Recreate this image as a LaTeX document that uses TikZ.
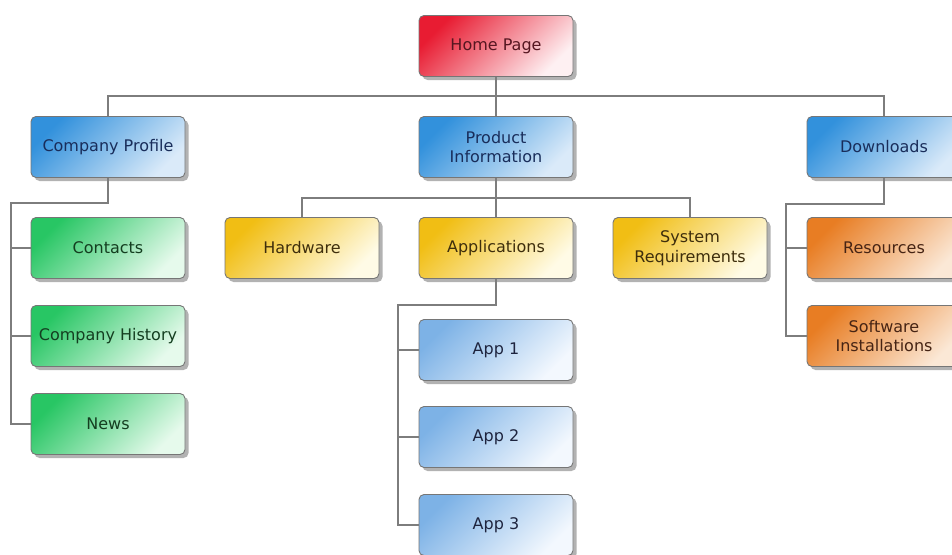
\documentclass[tikz,border=0pt]{standalone}
\usepackage{fontspec}
\setmainfont{DejaVu Sans}
\usetikzlibrary{shadows}
\definecolor{conncol}{RGB}{125,125,125}
\definecolor{bordercol}{RGB}{118,118,118}
\definecolor{redA}{RGB}{232,28,50}
\definecolor{redM}{RGB}{240,105,120}
\definecolor{redB}{RGB}{254,240,242}
\definecolor{redT}{RGB}{85,22,32}
\definecolor{blueA}{RGB}{50,145,220}
\definecolor{blueM}{RGB}{120,180,232}
\definecolor{blueB}{RGB}{218,234,249}
\definecolor{blueT}{RGB}{25,45,90}
\definecolor{greenA}{RGB}{40,198,100}
\definecolor{greenM}{RGB}{120,220,155}
\definecolor{greenB}{RGB}{230,250,236}
\definecolor{greenT}{RGB}{20,62,32}
\definecolor{yelA}{RGB}{241,190,20}
\definecolor{yelM}{RGB}{247,215,100}
\definecolor{yelB}{RGB}{255,251,230}
\definecolor{yelT}{RGB}{62,46,12}
\definecolor{orA}{RGB}{232,125,35}
\definecolor{orM}{RGB}{240,165,105}
\definecolor{orB}{RGB}{251,232,214}
\definecolor{orT}{RGB}{70,36,20}
\definecolor{lbA}{RGB}{125,178,230}
\definecolor{lbM}{RGB}{180,210,240}
\definecolor{lbB}{RGB}{243,248,254}
\definecolor{lbT}{RGB}{30,36,62}
\tikzset{
  box/.style={rectangle, rounded corners=5pt, draw=bordercol, line width=0.9pt,
    minimum width=154pt, minimum height=61pt, inner sep=0pt, align=center,
    font=\fontsize{16}{19.5}\selectfont,
    drop shadow={shadow xshift=3.5pt, shadow yshift=-3.5pt, opacity=0.3, fill=black}},
  redbox/.style={box, top color=redA, middle color=redM, bottom color=redB, shading angle=45, text=redT},
  bluebox/.style={box, top color=blueA, middle color=blueM, bottom color=blueB, shading angle=45, text=blueT},
  greenbox/.style={box, top color=greenA, middle color=greenM, bottom color=greenB, shading angle=45, text=greenT},
  yelbox/.style={box, top color=yelA, middle color=yelM, bottom color=yelB, shading angle=45, text=yelT},
  orbox/.style={box, top color=orA, middle color=orM, bottom color=orB, shading angle=45, text=orT},
  lbbox/.style={box, top color=lbA, middle color=lbM, bottom color=lbB, shading angle=45, text=lbT},
  conn/.style={draw=conncol, line width=1.3pt}
}
\begin{document}
\begin{tikzpicture}[x=1pt, y=-1pt]
\useasboundingbox (0,0) rectangle (952,554);
\fill[white] (0,0) rectangle (952,554);
\clip (0,0) rectangle (952,554);
% junction coordinates
\coordinate (bus1) at (496,96);
\coordinate (cpj) at (108,203);
\coordinate (cpt) at (11,203);
\coordinate (pib) at (496,198);
\coordinate (apj) at (496,305);
\coordinate (apt) at (398,305);
\coordinate (dlj) at (884,204);
\coordinate (dlt) at (786,204);
% nodes
\node[redbox] (home) at (496,46) {Home Page};
\node[bluebox] (cp) at (108,147) {Company Profile};
\node[bluebox] (pi) at (496,147) {Product\\Information};
\node[bluebox] (dl) at (884,147) {Downloads};
\node[greenbox] (contacts) at (108,248) {Contacts};
\node[greenbox] (hist) at (108,336) {Company History};
\node[greenbox] (news) at (108,424) {News};
\node[yelbox] (hw) at (302,248) {Hardware};
\node[yelbox] (apps) at (496,248) {Applications};
\node[yelbox] (sr) at (690,248) {System\\Requirements};
\node[orbox] (res) at (884,248) {Resources};
\node[orbox] (si) at (884,336) {Software\\Installations};
\node[lbbox] (app1) at (496,350) {App 1};
\node[lbbox] (app2) at (496,437) {App 2};
\node[lbbox] (app3) at (496,525) {App 3};
% connectors
\draw[conn] (home.south) -- (bus1);
\draw[conn] (cp.north) |- (bus1) -| (dl.north);
\draw[conn] (bus1) -- (pi.north);
\draw[conn] (cp.south) -- (cpj) -- (cpt) |- (news.west);
\draw[conn] (cpt) |- (contacts.west);
\draw[conn] (cpt) |- (hist.west);
\draw[conn] (pi.south) -- (apps.north);
\draw[conn] (hw.north) |- (pib) -| (sr.north);
\draw[conn] (apps.south) -- (apj) -- (apt) |- (app3.west);
\draw[conn] (apt) |- (app1.west);
\draw[conn] (apt) |- (app2.west);
\draw[conn] (dl.south) -- (dlj) -- (dlt) |- (si.west);
\draw[conn] (dlt) |- (res.west);
\end{tikzpicture}
\end{document}
